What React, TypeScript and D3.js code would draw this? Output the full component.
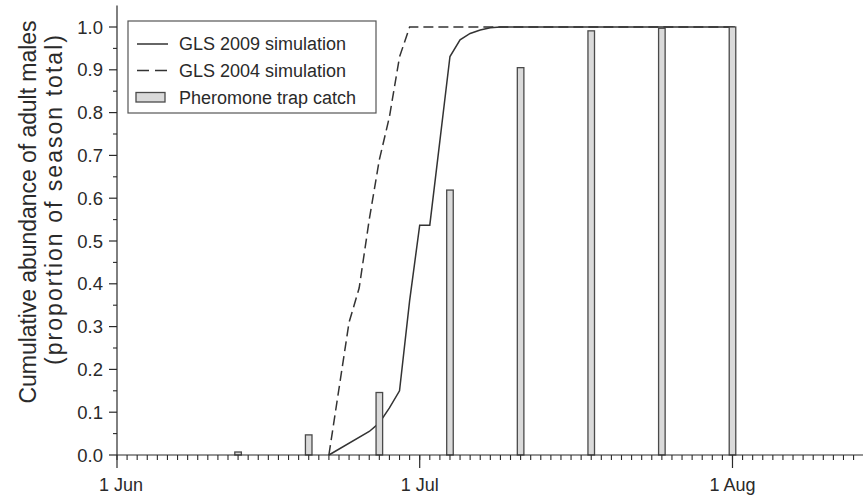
import React from "react";
import * as d3 from "d3";

// Day offsets from 1 June
const trapDays = [12, 19, 26, 33, 40, 47, 54, 61];
const trapCatch = [0.007, 0.047, 0.146, 0.619, 0.905, 0.991, 0.997, 1.0];

const gls2009Days = [21, 25, 26, 27, 28, 29, 30, 31, 32, 33, 34, 35, 36, 37, 38, 61.25];
const gls2009Values = [0, 0.055, 0.075, 0.11, 0.15, 0.36, 0.537, 0.537, 0.734, 0.931, 0.97, 0.985, 0.993, 0.998, 1.0, 1.0];

const gls2004Days = [21, 23, 24, 25, 26, 27, 28, 29, 61.25];
const gls2004Values = [0, 0.31, 0.39, 0.55, 0.69, 0.79, 0.93, 1.0, 1.0];

const xTickDays = [0, 30, 61];
const xTickLabels = ["1 Jun", "1 Jul", "1 Aug"];
const yMajorTicks = [0, 0.1, 0.2, 0.3, 0.4, 0.5, 0.6, 0.7, 0.8, 0.9, 1.0];
const yLabelLines = ["Cumulative abundance of adult males", "(proportion of season total)"];
const legendLabels = ["GLS 2009 simulation", "GLS 2004 simulation", "Pheromone trap catch"];

const W = 863;
const H = 496;
const FONT = "'Liberation Sans', Arial, Helvetica, sans-serif";
const INK = "#2a2a2a";

export default function App() {
  const x0 = 117;
  const pxPerDay = 10.09;
  const x = d3.scaleLinear().domain([0, 75]).range([x0, x0 + 75 * pxPerDay]);
  const y = d3.scaleLinear().domain([0, 1.05]).range([455, 455 - 1.05 * 428]);

  const line = d3
    .line<[number, number]>()
    .x((d) => x(d[0]))
    .y((d) => y(d[1]));

  const s2009 = gls2009Days.map((d, i) => [d, gls2009Values[i]] as [number, number]);
  const s2004 = gls2004Days.map((d, i) => [d, gls2004Values[i]] as [number, number]);

  const barW = 0.65 * pxPerDay;
  const minorDays = d3.range(0, 76);
  const yMinor = d3.range(0.05, 1.05, 0.1);

  return (
    <svg
      width={W}
      height={H}
      style={{ position: "absolute", left: 0, top: 0, display: "block", background: "#fff" }}
      fontFamily={FONT}
    >
      {/* curves */}
      <path d={line(s2004) || ""} fill="none" stroke="#333" strokeWidth={1.5} strokeDasharray="10,5" />
      <path d={line(s2009) || ""} fill="none" stroke="#333" strokeWidth={1.5} />

      {/* bars */}
      {trapDays.map((d, i) => (
        <rect
          key={i}
          x={x(d) - barW / 2}
          y={y(trapCatch[i])}
          width={barW}
          height={y(0) - y(trapCatch[i])}
          fill="#dadada"
          stroke="#4a4a4a"
          strokeWidth={1.3}
        />
      ))}

      {/* y axis */}
      <line x1={x0} x2={x0} y1={y(0)} y2={y(1.05)} stroke={INK} strokeWidth={1.2} />
      {yMajorTicks.map((t) => (
        <g key={t}>
          <line x1={x0 - 8} x2={x0} y1={y(t)} y2={y(t)} stroke={INK} strokeWidth={1.2} />
          <text x={x0 - 14} y={y(t)} dy="0.36em" textAnchor="end" fontSize={18.5} fill={INK}>
            {d3.format(".1f")(t)}
          </text>
        </g>
      ))}
      {yMinor.map((t) => (
        <line key={t} x1={x0 - 4} x2={x0} y1={y(t)} y2={y(t)} stroke={INK} strokeWidth={1.1} />
      ))}

      {/* x axis */}
      <line x1={x0} x2={x(75)} y1={y(0)} y2={y(0)} stroke={INK} strokeWidth={1.2} />
      {minorDays.map((d) => (
        <line key={d} x1={x(d)} x2={x(d)} y1={y(0)} y2={y(0) + 5} stroke={INK} strokeWidth={1.1} />
      ))}
      {xTickDays.map((d, i) => (
        <g key={d}>
          <line x1={x(d)} x2={x(d)} y1={y(0)} y2={y(0) + 13} stroke={INK} strokeWidth={1.2} />
          <text x={x(d) + (i === 0 ? 4 : 0)} y={491} textAnchor="middle" fontSize={18} fill={INK}>
            {xTickLabels[i]}
          </text>
        </g>
      ))}

      {/* y axis title */}
      <text
        transform="translate(36,212) rotate(-90)"
        textAnchor="middle"
        fontSize={23}
        fill={INK}
        textLength={383}
        lengthAdjust="spacing"
      >
        {yLabelLines[0]}
      </text>
      <text
        transform="translate(62,200) rotate(-90)"
        textAnchor="middle"
        fontSize={23}
        fill={INK}
        textLength={330}
        lengthAdjust="spacing"
      >
        {yLabelLines[1]}
      </text>

      {/* legend */}
      <rect x={128} y={21} width={248} height={92} fill="#fff" stroke="#555" strokeWidth={1.2} />
      <line x1={137} x2={168} y1={44} y2={44} stroke="#333" strokeWidth={1.5} />
      <line x1={137} x2={168} y1={70.5} y2={70.5} stroke="#333" strokeWidth={1.5} strokeDasharray="12,6" />
      <rect x={136} y={92.5} width={29} height={9.5} fill="#dadada" stroke="#4a4a4a" strokeWidth={1.3} />
      {legendLabels.map((l, i) => (
        <text key={l} x={179} y={44 + i * 26.6} dy="0.36em" fontSize={18} fill={INK}>
          {l}
        </text>
      ))}
    </svg>
  );
}
